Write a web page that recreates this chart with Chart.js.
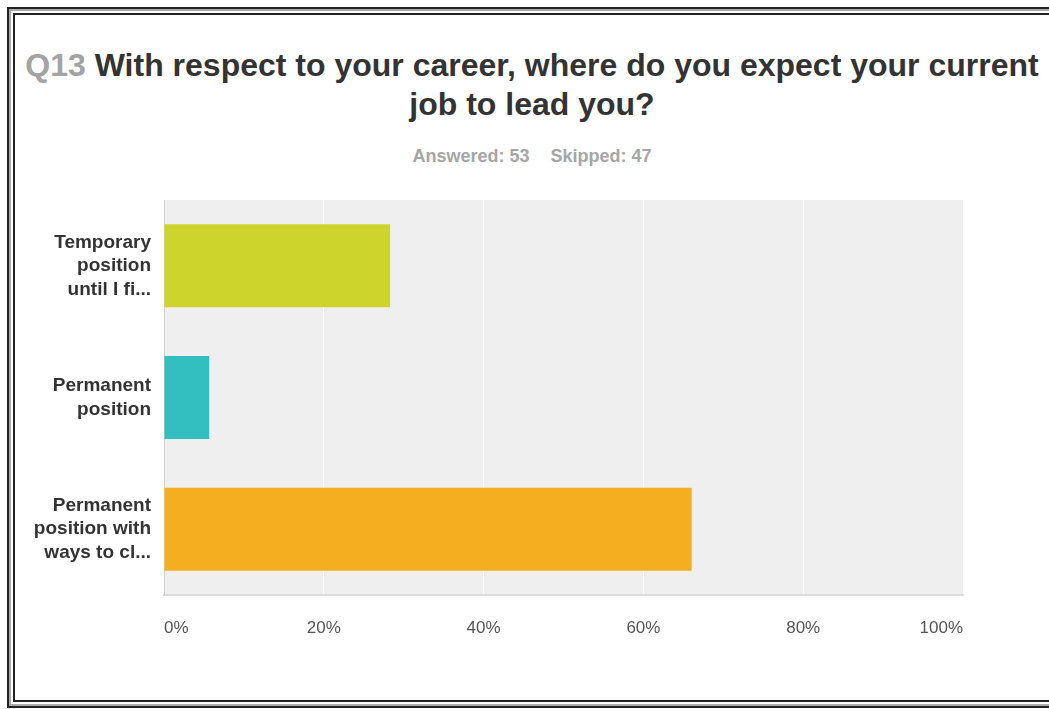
<!DOCTYPE html>
<html>
<head>
<meta charset="utf-8">
<script src="https://cdn.jsdelivr.net/npm/chart.js@4/dist/chart.umd.min.js"></script>
<style>
html, body { margin: 0; padding: 0; background: #fff; overflow: hidden; }
body { width: 1049px; height: 709px; position: relative; font-family: "Liberation Sans", Arial, sans-serif; }
.frame1 { position: absolute; left: 7px; top: 7px; width: 1080px; height: 701px; box-sizing: border-box; border: 2px solid #222; }
.frame2 { position: absolute; inset: 0; border: 2px solid #aaa; }
.frame3 { position: absolute; inset: 2px; border: 2px solid #222; }
#wrap { position: absolute; left: 0; top: 0; width: 1049px; height: 709px; }
.title { position: absolute; left: 0; top: 46px; width: 1064px; text-align: center; font-size: 32px; font-weight: bold; line-height: 39px; color: #333; }
.title .q { color: #a3a3a3; }
.sub { position: absolute; left: 0; top: 146px; width: 1064px; text-align: center; font-size: 18px; font-weight: bold; line-height: 20px; color: #a6a6a6; }
.sub span + span { margin-left: 21px; }
</style>
</head>
<body>
<div class="frame1"><div class="frame2"><div class="frame3"></div></div></div>
<div class="title"><span class="q">Q13</span> With respect to your career, where do you expect your current<br>job to lead you?</div>
<div class="sub"><span>Answered: 53</span><span>Skipped: 47</span></div>
<div id="wrap"><canvas id="chart" width="1049" height="709"></canvas></div>
<script>
const answers = [
  ['Temporary', 'position', 'until I fi...'],
  ['Permanent', 'position'],
  ['Permanent', 'position with', 'ways to cl...']
];
const percents = [28.30, 5.66, 66.04];
const barColors = ['#cdd42b', '#33bec0', '#f5ae1f'];
const xTicks = [0, 20, 40, 60, 80, 100];

// grey panel behind the bars
const plotBg = {
  id: 'plotBg',
  beforeDraw(chart) {
    const { ctx, chartArea: a } = chart;
    ctx.save();
    ctx.fillStyle = '#efefef';
    ctx.fillRect(a.left, a.top, a.right - a.left, a.bottom - a.top);
    ctx.restore();
  }
};

new Chart(document.getElementById('chart'), {
  type: 'bar',
  data: {
    labels: answers,
    datasets: [{
      data: percents,
      backgroundColor: barColors,
      borderWidth: 0,
      barPercentage: 0.63,
      categoryPercentage: 1
    }]
  },
  plugins: [plotBg],
  options: {
    indexAxis: 'y',
    responsive: false,
    animation: false,
    layout: { padding: { left: 0, top: 200, right: 86, bottom: 0 } },
    plugins: { legend: { display: false }, tooltip: { enabled: false } },
    scales: {
      x: {
        min: 0,
        max: 100,
        afterBuildTicks(scale) { scale.ticks = xTicks.map(v => ({ value: v })); },
        afterFit(scale) { scale.height = 114; },
        grid: { color: '#ffffff', lineWidth: 1, drawTicks: false },
        border: { color: '#dcdcdc', width: 2 },
        ticks: {
          align: 'inner',
          padding: 23,
          color: '#555',
          font: { family: '"Liberation Sans", Arial, sans-serif', size: 17 },
          callback: v => v + '%'
        }
      },
      y: {
        afterFit(scale) { scale.width = 164; },
        grid: { display: false, drawTicks: false },
        border: { color: '#cfcfcf', width: 1 },
        ticks: {
          padding: 13,
          color: '#333',
          font: { family: '"Liberation Sans", Arial, sans-serif', size: 19, weight: 'bold', lineHeight: 1.24 }
        }
      }
    }
  }
});
</script>
</body>
</html>
